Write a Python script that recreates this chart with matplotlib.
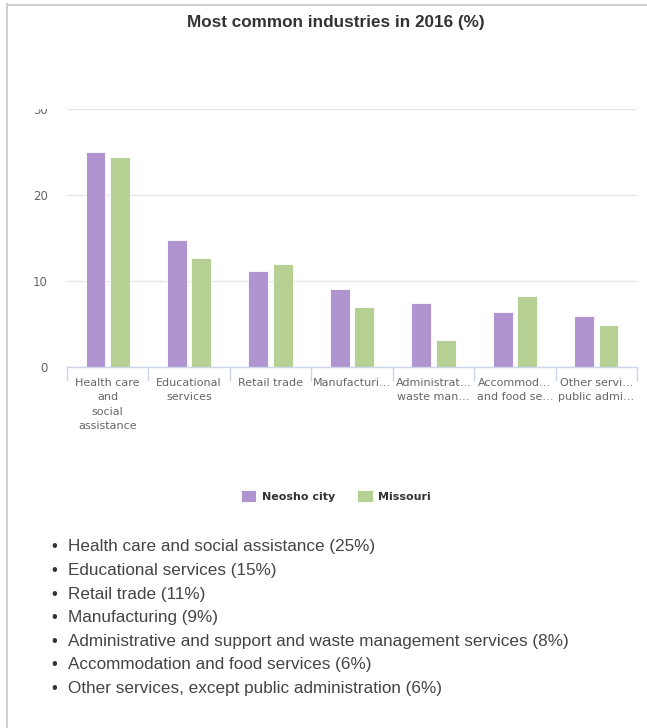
import numpy as np
import matplotlib.pyplot as plt
from matplotlib.patches import Rectangle

# Дані
categories = ["Health care\nand\nsocial\nassistance", "Educational\nservices", "Retail trade",
              "Manufacturi…", "Administrat…\nwaste man…", "Accommod…\nand food se…",
              "Other servi…\npublic admi…"]
neosho = [25.0, 14.7, 11.1, 9.1, 7.4, 6.4, 5.9]
missouri = [24.4, 12.6, 12.0, 6.9, 3.1, 8.2, 4.9]
y_ticks = [0, 10, 20, 30]

list_names = ["Health care and social assistance", "Educational services", "Retail trade",
              "Manufacturing", "Administrative and support and waste management services",
              "Accommodation and food services", "Other services, except public administration"]
list_pct = [25, 15, 11, 9, 8, 6, 6]

purple = '#b094d0'
green = '#b6cf93'
grey = '#666666'

fig = plt.figure(figsize=(6.47, 7.28), dpi=100)
ax = fig.add_axes([67 / 647, 1 - 366.7 / 728, 570 / 647, 257.7 / 728])

x = np.arange(len(categories))
b1 = ax.bar(x - 0.15, neosho, 0.245, color=purple, edgecolor='white', linewidth=0.6, label='Neosho city')
b2 = ax.bar(x + 0.15, missouri, 0.245, color=green, edgecolor='white', linewidth=0.6, label='Missouri')

ax.set_xlim(-0.5, len(categories) - 0.5)
ax.set_ylim(0, 30)
ax.set_yticks(y_ticks)
ax.set_yticklabels([str(v) for v in y_ticks], fontsize=8.5, color=grey)
ax.tick_params(axis='y', length=0, pad=14)
ax.yaxis.grid(True, color='#e6e6e6', linewidth=1)
ax.set_axisbelow(True)

ax.set_xticks(x)
ax.set_xticklabels(categories, fontsize=8, color=grey, linespacing=1.55, va='top')
ax.tick_params(axis='x', which='major', length=0, pad=8)
ax.set_xticks(np.arange(len(categories) + 1) - 0.5, minor=True)
ax.tick_params(axis='x', which='minor', length=10, color='#ccd6eb', width=1)

for s in ['top', 'right', 'left']:
    ax.spines[s].set_visible(False)
ax.spines['bottom'].set_color('#ccd6eb')
ax.spines['bottom'].set_linewidth(1)

# верх мітки "30" прихований, як на оригіналі
fig.add_artist(Rectangle((25 / 647, 1 - 109 / 728), 35 / 647, 16 / 728, transform=fig.transFigure,
                         facecolor='white', edgecolor='none', zorder=10))

fig.text(336 / 647, 1 - 22 / 728, 'Most common industries in 2016 (%)', ha='center', va='center',
         fontsize=12.3, fontweight='bold', color='#333333', family='Liberation Sans')

fig.legend(handles=[b1, b2], loc='center', bbox_to_anchor=(0.519, 1 - 496 / 728), ncol=2,
           frameon=False, prop={'weight': 'bold', 'size': 8},
           handlelength=1.4, handleheight=1.2, handletextpad=0.5, columnspacing=2.0,
           labelcolor='#333333')

# Список
for i, (name, p) in enumerate(zip(list_names, list_pct)):
    yy = 1 - (547 + i * 23.6) / 728
    fig.text(51 / 647, yy, '•', ha='left', va='center', fontsize=12, color='#333333',
             family='Liberation Sans')
    fig.text(68 / 647, yy, f'{name} ({p}%)', ha='left', va='center', fontsize=12.3,
             color='#444444', family='Liberation Sans')

# рамка
fig.add_artist(plt.Line2D([6.5 / 647, 6.5 / 647], [0, 1 - 4 / 728], color='#d0d0d0', linewidth=1.5))
fig.add_artist(plt.Line2D([6.5 / 647, 1], [1 - 4.5 / 728, 1 - 4.5 / 728], color='#d0d0d0', linewidth=1.5))

fig.savefig('out.png', dpi=100)
